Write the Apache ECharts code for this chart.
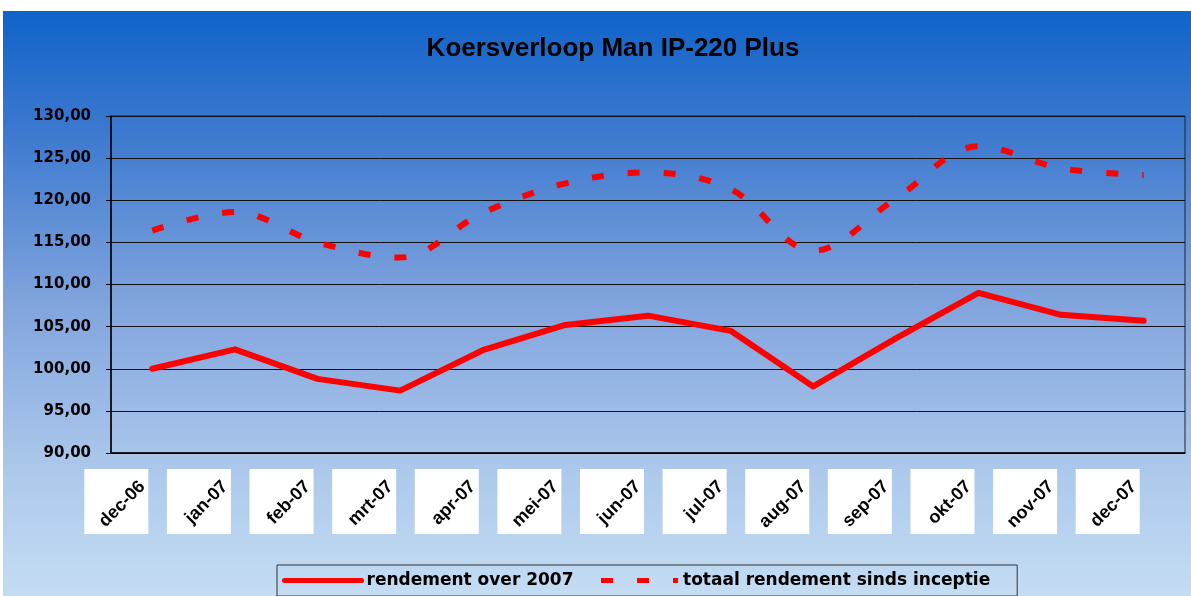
<!DOCTYPE html>
<html>
<head>
<meta charset="utf-8">
<title>Koersverloop Man IP-220 Plus</title>
<script src="https://cdn.jsdelivr.net/npm/echarts@6/dist/echarts.min.js"></script>
<style>
  body { margin: 0; background: #fff; }
  #main { position: absolute; left: 3px; top: 11px; width: 1188px; height: 585px; }
</style>
</head>
<body>
<div id="main"></div>
<script>
var categories = ['dec-06', 'jan-07', 'feb-07', 'mrt-07', 'apr-07', 'mei-07', 'jun-07', 'jul-07', 'aug-07', 'sep-07', 'okt-07', 'nov-07', 'dec-07'];
var rendement2007 = [100.0, 102.3, 98.8, 97.4, 102.2, 105.2, 106.3, 104.5, 97.9, 103.6, 109.0, 106.4, 105.7];
var totaalRendement = [116.4, 118.6, 115.0, 113.2, 118.5, 122.0, 123.3, 121.3, 114.0, 120.2, 126.4, 123.8, 123.0];

var font = 'Liberation Sans, Arial, sans-serif';
var myChart = echarts.init(document.getElementById('main'));

var option = {
  backgroundColor: new echarts.graphic.LinearGradient(0, 0, 0, 1, [
    { offset: 0, color: '#0f63c9' },
    { offset: 0.2, color: '#3b78cf' },
    { offset: 0.5, color: '#81a4dd' },
    { offset: 0.8, color: '#aecaec' },
    { offset: 1, color: '#c4ddf3' }
  ]),
  animation: false,
  textStyle: { fontFamily: font },
  title: {
    text: 'Koersverloop Man IP-220 Plus',
    left: 605,
    textAlign: 'center',
    top: 20,
    textStyle: { fontSize: 26, fontWeight: 'bold', color: '#000', fontFamily: font }
  },
  legend: {
    left: 274,
    bottom: 0,
    padding: [7, 27, 7, 5],
    itemWidth: 77,
    itemHeight: 8,
    itemGap: 25,
    borderColor: '#333',
    borderWidth: 1,
    lineStyle: { width: 5 },
    itemStyle: { opacity: 0 },
    textStyle: { fontSize: 17, fontWeight: 'bold', color: '#000', fontFamily: 'DejaVu Sans' },
    data: ['rendement over 2007', 'totaal rendement sinds inceptie']
  },
  grid: {
    left: 108,
    right: 6,
    top: 105,
    bottom: 143,
    show: true,
    borderColor: '#222',
    borderWidth: 1
  },
  xAxis: [
    {
      // tekstlabels, 45 graden gedraaid
      type: 'category',
      position: 'bottom',
      data: categories,
      z: 3,
      axisLine: { lineStyle: { color: '#000', width: 1.5 } },
      axisTick: { length: 4, lineStyle: { color: '#000' } },
      axisLabel: {
        interval: 0,
        rotate: 45,
        margin: 21,
        padding: [0, 14, 0, 0],
        fontSize: 18,
        fontWeight: 'bold',
        color: '#000'
      }
    },
    {
      // witte vakjes achter de labels
      type: 'category',
      position: 'bottom',
      data: categories,
      z: 1,
      axisLine: { show: false },
      axisTick: { show: false },
      axisLabel: {
        interval: 0,
        margin: 16,
        align: 'right',
        padding: [0, 4, 0, 0],
        formatter: function () { return '{b| }'; },
        rich: { b: { width: 64, height: 65, backgroundColor: '#fff' } }
      }
    }
  ],
  yAxis: {
    type: 'value',
    min: 90,
    max: 130,
    interval: 5,
    axisLine: { show: true, lineStyle: { color: '#000', width: 1.5 } },
    axisTick: { show: true, length: 5, lineStyle: { color: '#000' } },
    splitLine: { lineStyle: { color: '#111', width: 1 } },
    axisLabel: {
      margin: 20,
      fontSize: 15,
      fontWeight: 'bold',
      fontFamily: 'DejaVu Sans',
      color: '#000',
      formatter: function (val) {
        return val.toFixed(2).replace('.', ',');
      }
    }
  },
  series: [
    {
      name: 'rendement over 2007',
      type: 'line',
      data: rendement2007,
      symbol: 'none',
      lineStyle: { color: '#ff0000', width: 6, cap: 'round', join: 'round' },
      itemStyle: { color: '#ff0000' }
    },
    {
      name: 'totaal rendement sinds inceptie',
      type: 'line',
      data: totaalRendement,
      symbol: 'none',
      smooth: 0.35,
      lineStyle: { color: '#ff0000', width: 6, type: [12, 24] },
      itemStyle: { color: '#ff0000' }
    }
  ]
};

myChart.setOption(option);
</script>
</body>
</html>
